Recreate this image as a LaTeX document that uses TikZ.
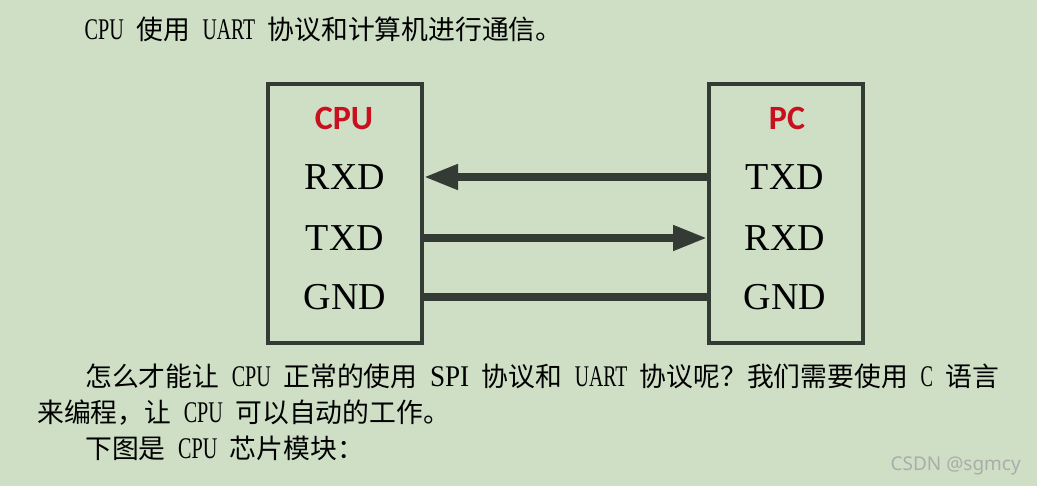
\documentclass[tikz,border=0pt]{standalone}
\usepackage{fontspec}
\usepackage{graphicx}
\setmainfont{Liberation Serif}
\newfontfamily\cjk{Noto Sans CJK SC}
\newfontfamily\latn{Liberation Serif}
\newfontfamily\lblfont{Carlito}
\newfontfamily\wmfont{Noto Sans}
\usetikzlibrary{arrows.meta}
\usetikzlibrary{positioning}

\definecolor{bggreen}{RGB}{206,223,198}
\definecolor{boxgray}{RGB}{52,58,52}
\definecolor{cpured}{RGB}{200,16,30}
\definecolor{wmgray}{RGB}{170,172,170}

% latin word squeezed into a half-width slot, and the gap round it
\newcommand{\lw}[2]{\makebox[#1em][c]{\resizebox{\dimexpr#1em-1pt\relax}{\height}{\latn\fontsize{30pt}{30pt}\selectfont #2}}}
\newcommand{\gp}{\hspace{0.45em}}

\begin{document}
\begin{tikzpicture}[x=1pt,y=-1pt,
  para/.style={anchor=base west,inner sep=0,font=\cjk\fontsize{26.8pt}{32pt}\selectfont},
  chip/.style={draw=boxgray,line width=4pt,minimum width=154pt,minimum height=259pt,inner sep=0},
  title/.style={font=\lblfont\bfseries\fontsize{34pt}{34pt}\selectfont,text=cpured},
  pin/.style={font=\fontsize{38pt}{38pt}\selectfont,inner sep=0},
  wire/.style={draw=boxgray,line width=7.5pt}]
\fill[bggreen] (0,0) rectangle (1037,486);
\useasboundingbox (0,0) rectangle (1037,486);

\node[para] (l0) at (84,40) {\lw{1.5}{CPU}\gp 使用\gp\lw{2}{UART}\gp 协议和计算机进行通信。};

\node[chip] (cpu) at (345,213.5) {};
\node[chip] (pc) at (786,213.5) {};
\node[title] (cpulbl) at (344,118) {CPU};
\node[title] (pclbl) at (787,118) {PC};
\node[pin] (cpurxd) at (345,177) {RXD};
\node[pin] (cputxd) at (345,238) {TXD};
\node[pin] (cpugnd) at (345,297) {GND};
\node[pin] (pctxd) at (785,177) {TXD};
\node[pin] (pcrxd) at (785,238) {RXD};
\node[pin] (pcgnd) at (785,297) {GND};

\draw[wire,-{Triangle[length=34pt,width=24pt]}] (pctxd -| pc.west) -- (cpurxd -| cpu.east);
\draw[wire,-{Triangle[length=34pt,width=24pt]}] (cputxd -| cpu.east) -- (pcrxd -| pc.west);
\draw[wire] (cpugnd -| cpu.east) -- (pcgnd -| pc.west);

\node[para] (l1) at (85,387) {怎么才能让\gp\lw{1.5}{CPU}\gp 正常的使用\gp\lw{1.5}{SPI}\gp 协议和\gp\lw{2}{UART}\gp 协议呢？我们需要使用\gp\lw{0.5}{C}\gp 语言};
\node[para] (l2) at (37,423) {来编程，让\gp\lw{1.5}{CPU}\gp 可以自动的工作。};
\node[para] (l3) at (85,458) {下图是\gp\lw{1.5}{CPU}\gp 芯片模块：};

\node[font=\wmfont\fontsize{19pt}{19pt}\selectfont,text=wmgray,anchor=base east,inner sep=0] (wm) at (1021,471) {CSDN @sgmcy};
\end{tikzpicture}
\end{document}
